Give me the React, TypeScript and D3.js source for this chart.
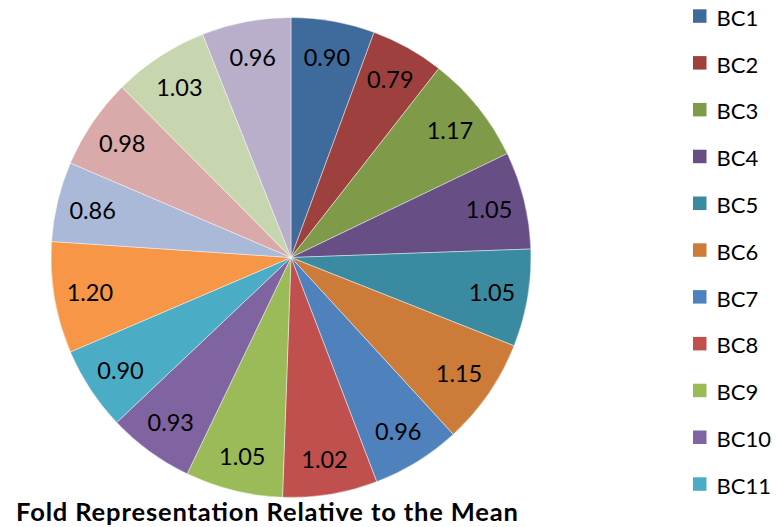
import React from "react";
import * as d3 from "d3";

// Fold representation of each BC relative to the mean
const categories = [
  "BC1", "BC2", "BC3", "BC4", "BC5", "BC6", "BC7", "BC8",
  "BC9", "BC10", "BC11", "BC12", "BC13", "BC14", "BC15", "BC16",
];
const values = [
  0.9, 0.79, 1.17, 1.05, 1.05, 1.15, 0.96, 1.02,
  1.05, 0.93, 0.9, 1.2, 0.86, 0.98, 1.03, 0.96,
];
const sliceColors = [
  "#3F6A9C", "#9E413E", "#7F9A48", "#674F86", "#3A8BA1", "#CC7B38",
  "#4F81BD", "#C0504D", "#9BBB59", "#8064A2", "#4BACC6", "#F79646",
  "#AAB9D7", "#D9AAA9", "#C7D6AE", "#B9AFCB",
];
const title = "Fold Representation Relative to the Mean";

const W = 776;
const H = 527;
const cx = 291;
const cy = 257.5;
const R = 240;
const labelR = 204;
const font = "Lato, 'Open Sans', sans-serif";

export default function App() {
  const pie = d3
    .pie<number>()
    .sort(null)
    .value((d) => d);
  const arcs = pie(values);
  const arcGen = d3.arc<d3.PieArcDatum<number>>().innerRadius(0).outerRadius(R);
  const labelArc = d3
    .arc<d3.PieArcDatum<number>>()
    .innerRadius(labelR)
    .outerRadius(labelR);

  const color = d3.scaleOrdinal<string, string>().domain(categories).range(sliceColors);
  const legendY = d3
    .scalePoint<string>()
    .domain(categories)
    .range([9.3, 9.3 + 46.8 * (categories.length - 1)]);
  // the legend runs past the bottom of the chart area; only entries that fit are shown
  const legendItems = categories.filter((c) => (legendY(c) ?? 0) + 24 <= H);

  return (
    <svg
      width={W}
      height={H}
      viewBox={`0 0 ${W} ${H}`}
      style={{ position: "absolute", left: 0, top: 0, background: "#fff" }}
    >
      <g transform={`translate(${cx},${cy})`}>
        {arcs.map((a, i) => (
          <path
            key={categories[i]}
            d={arcGen(a) ?? ""}
            fill={color(categories[i])}
            stroke="#ffffff"
            strokeOpacity={0.55}
            strokeWidth={0.8}
          />
        ))}
        {arcs.map((a, i) => {
          const [x, y] = labelArc.centroid(a);
          return (
            <text
              key={`l-${categories[i]}`}
              x={x}
              y={y}
              textAnchor="middle"
              dominantBaseline="central"
              fontFamily={font}
              fontSize={23.5}
              fill="#000"
            >
              {d3.format(".2f")(values[i])}
            </text>
          );
        })}
      </g>

      <g>
        {legendItems.map((c) => {
          const y = legendY(c) ?? 0;
          return (
            <g key={`lg-${c}`}>
              <rect x={693} y={y} width={13.5} height={13.5} fill={color(c)} />
              <text
                x={716.5}
                y={y + 16.5}
                fontFamily={font}
                fontSize={22}
                fill="#000"
              >
                {c}
              </text>
            </g>
          );
        })}
      </g>

      <text
        x={16}
        y={520.5}
        fontFamily={font}
        fontWeight={700}
        fontSize={25.5}
        textLength={502}
        lengthAdjust="spacing"
        fill="#000"
      >
        {title}
      </text>
    </svg>
  );
}
